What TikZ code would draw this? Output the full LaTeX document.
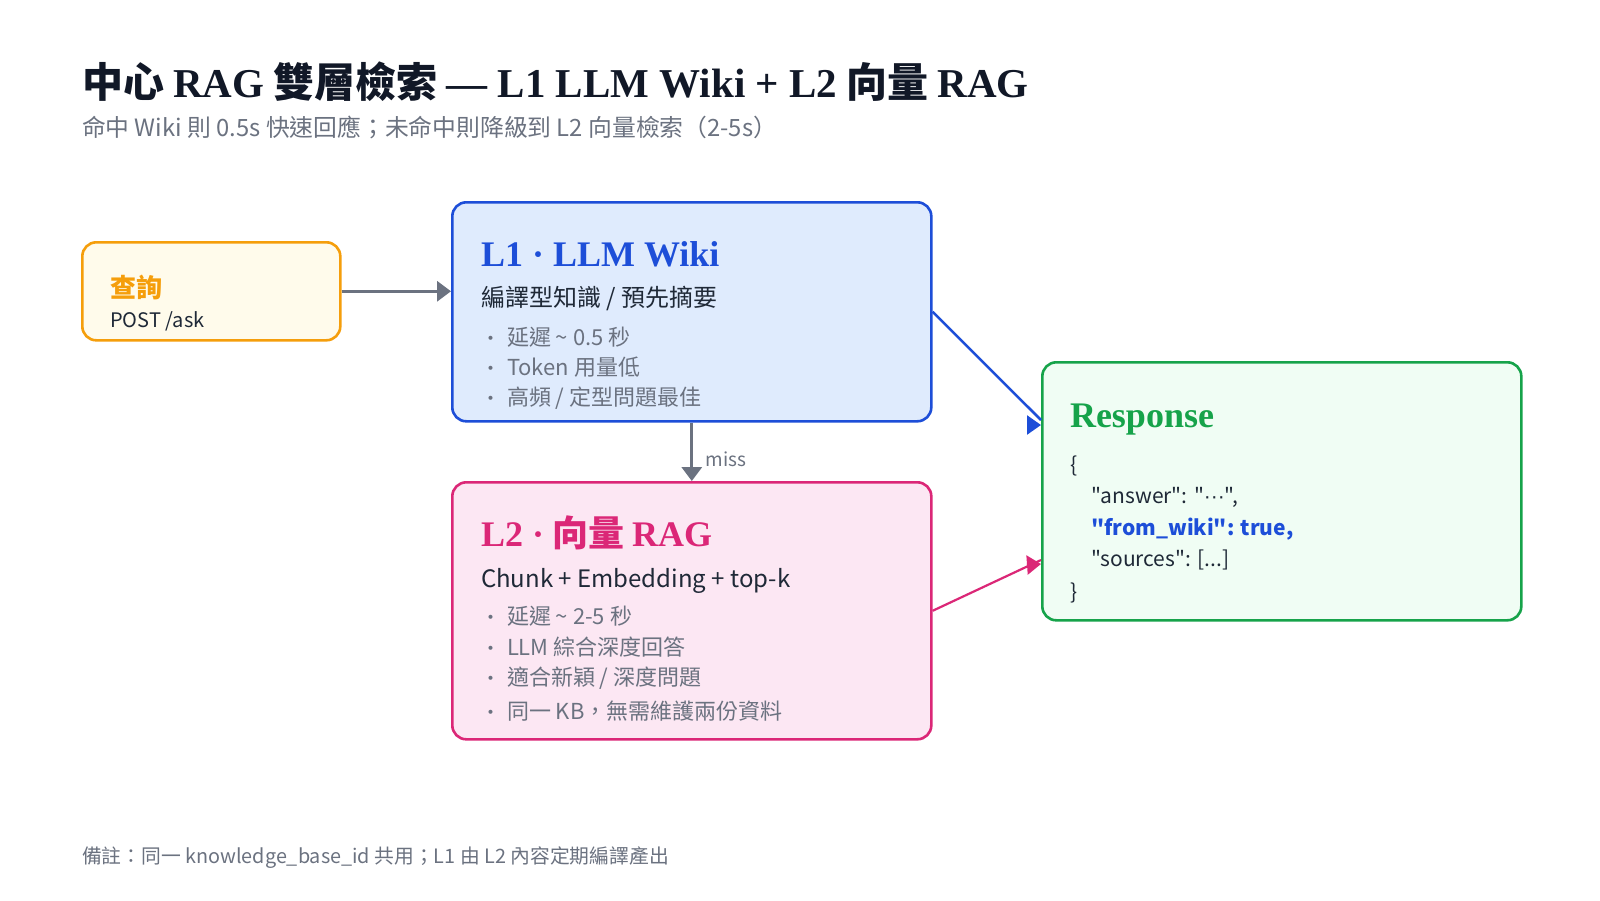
\documentclass[tikz,border=0pt]{standalone}
\usepackage{fontspec}
\setmainfont{Noto Sans CJK TC}[Ligatures=TeXOff]
\newfontfamily\serifLat{Liberation Serif}
\newfontfamily\dotfont{Liberation Sans}
\usetikzlibrary{arrows.meta,calc}
\definecolor{ink}{HTML}{111827}
\definecolor{txt}{HTML}{1F2937}
\definecolor{mute}{HTML}{6B7280}
\definecolor{qline}{HTML}{F59E0B}
\definecolor{qfill}{HTML}{FFFBEB}
\definecolor{bline}{HTML}{1D4ED8}
\definecolor{bfill}{HTML}{DFEBFD}
\definecolor{pline}{HTML}{DB2777}
\definecolor{pfill}{HTML}{FCE7F3}
\definecolor{gline}{HTML}{16A34A}
\definecolor{gfill}{HTML}{F0FDF4}
\newcommand{\fs}[1]{\fontsize{#1}{#1}\selectfont}
\newcommand{\Lt}[1]{{\serifLat\bfseries #1}}
\newcommand{\Ck}[1]{{\bfseries #1}}
\tikzset{
  card/.style={rectangle, rounded corners=14pt, line width=2.6pt, anchor=north west, inner sep=0pt},
  txtnode/.style={anchor=base west, inner sep=0pt, outer sep=0pt},
  dotnode/.style={anchor=base, inner sep=0pt, text=mute, font=\fs{19}},
  grayarrow/.style={draw=mute, line width=3.2pt, -{Triangle[length=14pt,width=20pt]}},
  tiponly/.style={line width=2.5pt, -{Triangle[length=14pt,width=19pt]}},
}
\begin{document}
\begin{tikzpicture}[x=1pt,y=-1pt]
\useasboundingbox (0,0) rectangle (1600,900);
\fill[white] (0,0) rectangle (1600,900);

% title
\node[txtnode, text=ink, font=\fs{41}] (title) at (82,97)
  {\Ck{中心} \Lt{RAG} \Ck{雙層檢索} \Lt{— L1 LLM Wiki + L2} \Ck{向量} \Lt{RAG}};
\node[txtnode, text=mute, font=\fs{23.8}] (subtitle) at (82,136)
  {命中 Wiki 則 0.5s 快速回應；未命中則降級到 L2 向量檢索（2-5s）};

% boxes
\node[card, draw=qline, fill=qfill, minimum width=258pt, minimum height=98pt] (q) at (81,241) {};
\node[card, draw=bline, fill=bfill, minimum width=479pt, minimum height=219pt] (l1) at (451,201) {};
\node[card, draw=pline, fill=pfill, minimum width=479pt, minimum height=257pt] (l2) at (451,481) {};
\node[card, draw=gline, fill=gfill, minimum width=479pt, minimum height=258pt] (resp) at (1041,361) {};

% query text
\node[txtnode, text=qline, font=\fs{26}] (qt) at (110,297) {\Ck{查詢}};
\node[txtnode, text=txt, font=\fs{20}] (qb) at (110,327) {POST /ask};

% L1 text
\node[txtnode, text=bline, font=\fs{36}] (l1t) at (481,266) {\Lt{L1 · LLM Wiki}};
\node[txtnode, text=txt, font=\fs{24}] (l1s) at (481,306) {編譯型知識 / 預先摘要};
\node[dotnode] (l1d1) at (491,345) {•};
\node[dotnode] (l1d2) at (491,375) {•};
\node[dotnode] (l1d3) at (491,405) {•};
\node[txtnode, text=mute, font=\fs{22}] (l1b1) at (507,345) {延遲 \textasciitilde\ 0.5 秒};
\node[txtnode, text=mute, font=\fs{22}] (l1b2) at (507,375) {Token 用量低};
\node[txtnode, text=mute, font=\fs{22}] (l1b3) at (507,405) {高頻 / 定型問題最佳};

% L2 text
\node[txtnode, text=pline, font=\fs{36}] (l2t) at (481,546) {\Lt{L2 ·} \Ck{向量} \Lt{RAG}};
\node[txtnode, text=txt, font=\fs{24}] (l2s) at (481,587) {Chunk + Embedding + top-k};
\node[dotnode] (l2d1) at (491,624) {•};
\node[dotnode] (l2d2) at (491,655) {•};
\node[dotnode] (l2d3) at (491,685) {•};
\node[dotnode] (l2d4) at (491,719) {•};
\node[txtnode, text=mute, font=\fs{22}] (l2b1) at (507,624) {延遲 \textasciitilde\ 2-5 秒};
\node[txtnode, text=mute, font=\fs{22}] (l2b2) at (507,655) {LLM 綜合深度回答};
\node[txtnode, text=mute, font=\fs{22}] (l2b3) at (507,685) {適合新穎 / 深度問題};
\node[txtnode, text=mute, font=\fs{22}] (l2b4) at (507,719) {同一 KB，無需維護兩份資料};

% Response text
\node[txtnode, text=gline, font=\fs{36}] (rt) at (1070,427) {\Lt{Response}};
\node[txtnode, text=txt, font=\fs{21}] (r1) at (1070,472) {\{};
\node[txtnode, text=txt, font=\fs{21}] (r2) at (1091,503) {"answer": "{\dotfont···}",};
\node[txtnode, text=bline, font=\fs{21}] (r3) at (1091,535) {\bfseries "from\_wiki": true,};
\node[txtnode, text=txt, font=\fs{21}] (r4) at (1091,566) {"sources": [...]};
\node[txtnode, text=txt, font=\fs{21}] (r5) at (1070,599) {\}};

% connectors
\draw[grayarrow] (q.east) -- (q.east -| l1.west);
\draw[grayarrow] (l1.south) -- (l2.north) node[pos=0.62, right=12pt, text=mute, font=\fs{19}, inner sep=0pt] (miss) {miss};
\coordinate (bend) at ($(resp.north west)+(0,59)$);
\draw[draw=bline, line width=2.5pt] (l1.east) -- (bend);
\coordinate (btip) at ($(resp.north west)+(0,64)$);
\draw[tiponly, draw=bline, fill=bline] ($(btip)+(-14,0)$) -- (btip);
\coordinate (pend) at ($(resp.north west)+(0,199)$);
\draw[draw=pline, line width=2.2pt] (l2.east) -- (pend);
\coordinate (ptip) at ($(resp.north west)+(0,203)$);
\draw[tiponly, draw=pline, fill=pline] ($(ptip)+(-14,1)$) -- (ptip);

% footnote
\node[txtnode, text=mute, font=\fs{19.8}] (foot) at (82,863)
  {備註：同一 knowledge\_base\_id 共用；L1 由 L2 內容定期編譯產出};
\end{tikzpicture}
\end{document}
